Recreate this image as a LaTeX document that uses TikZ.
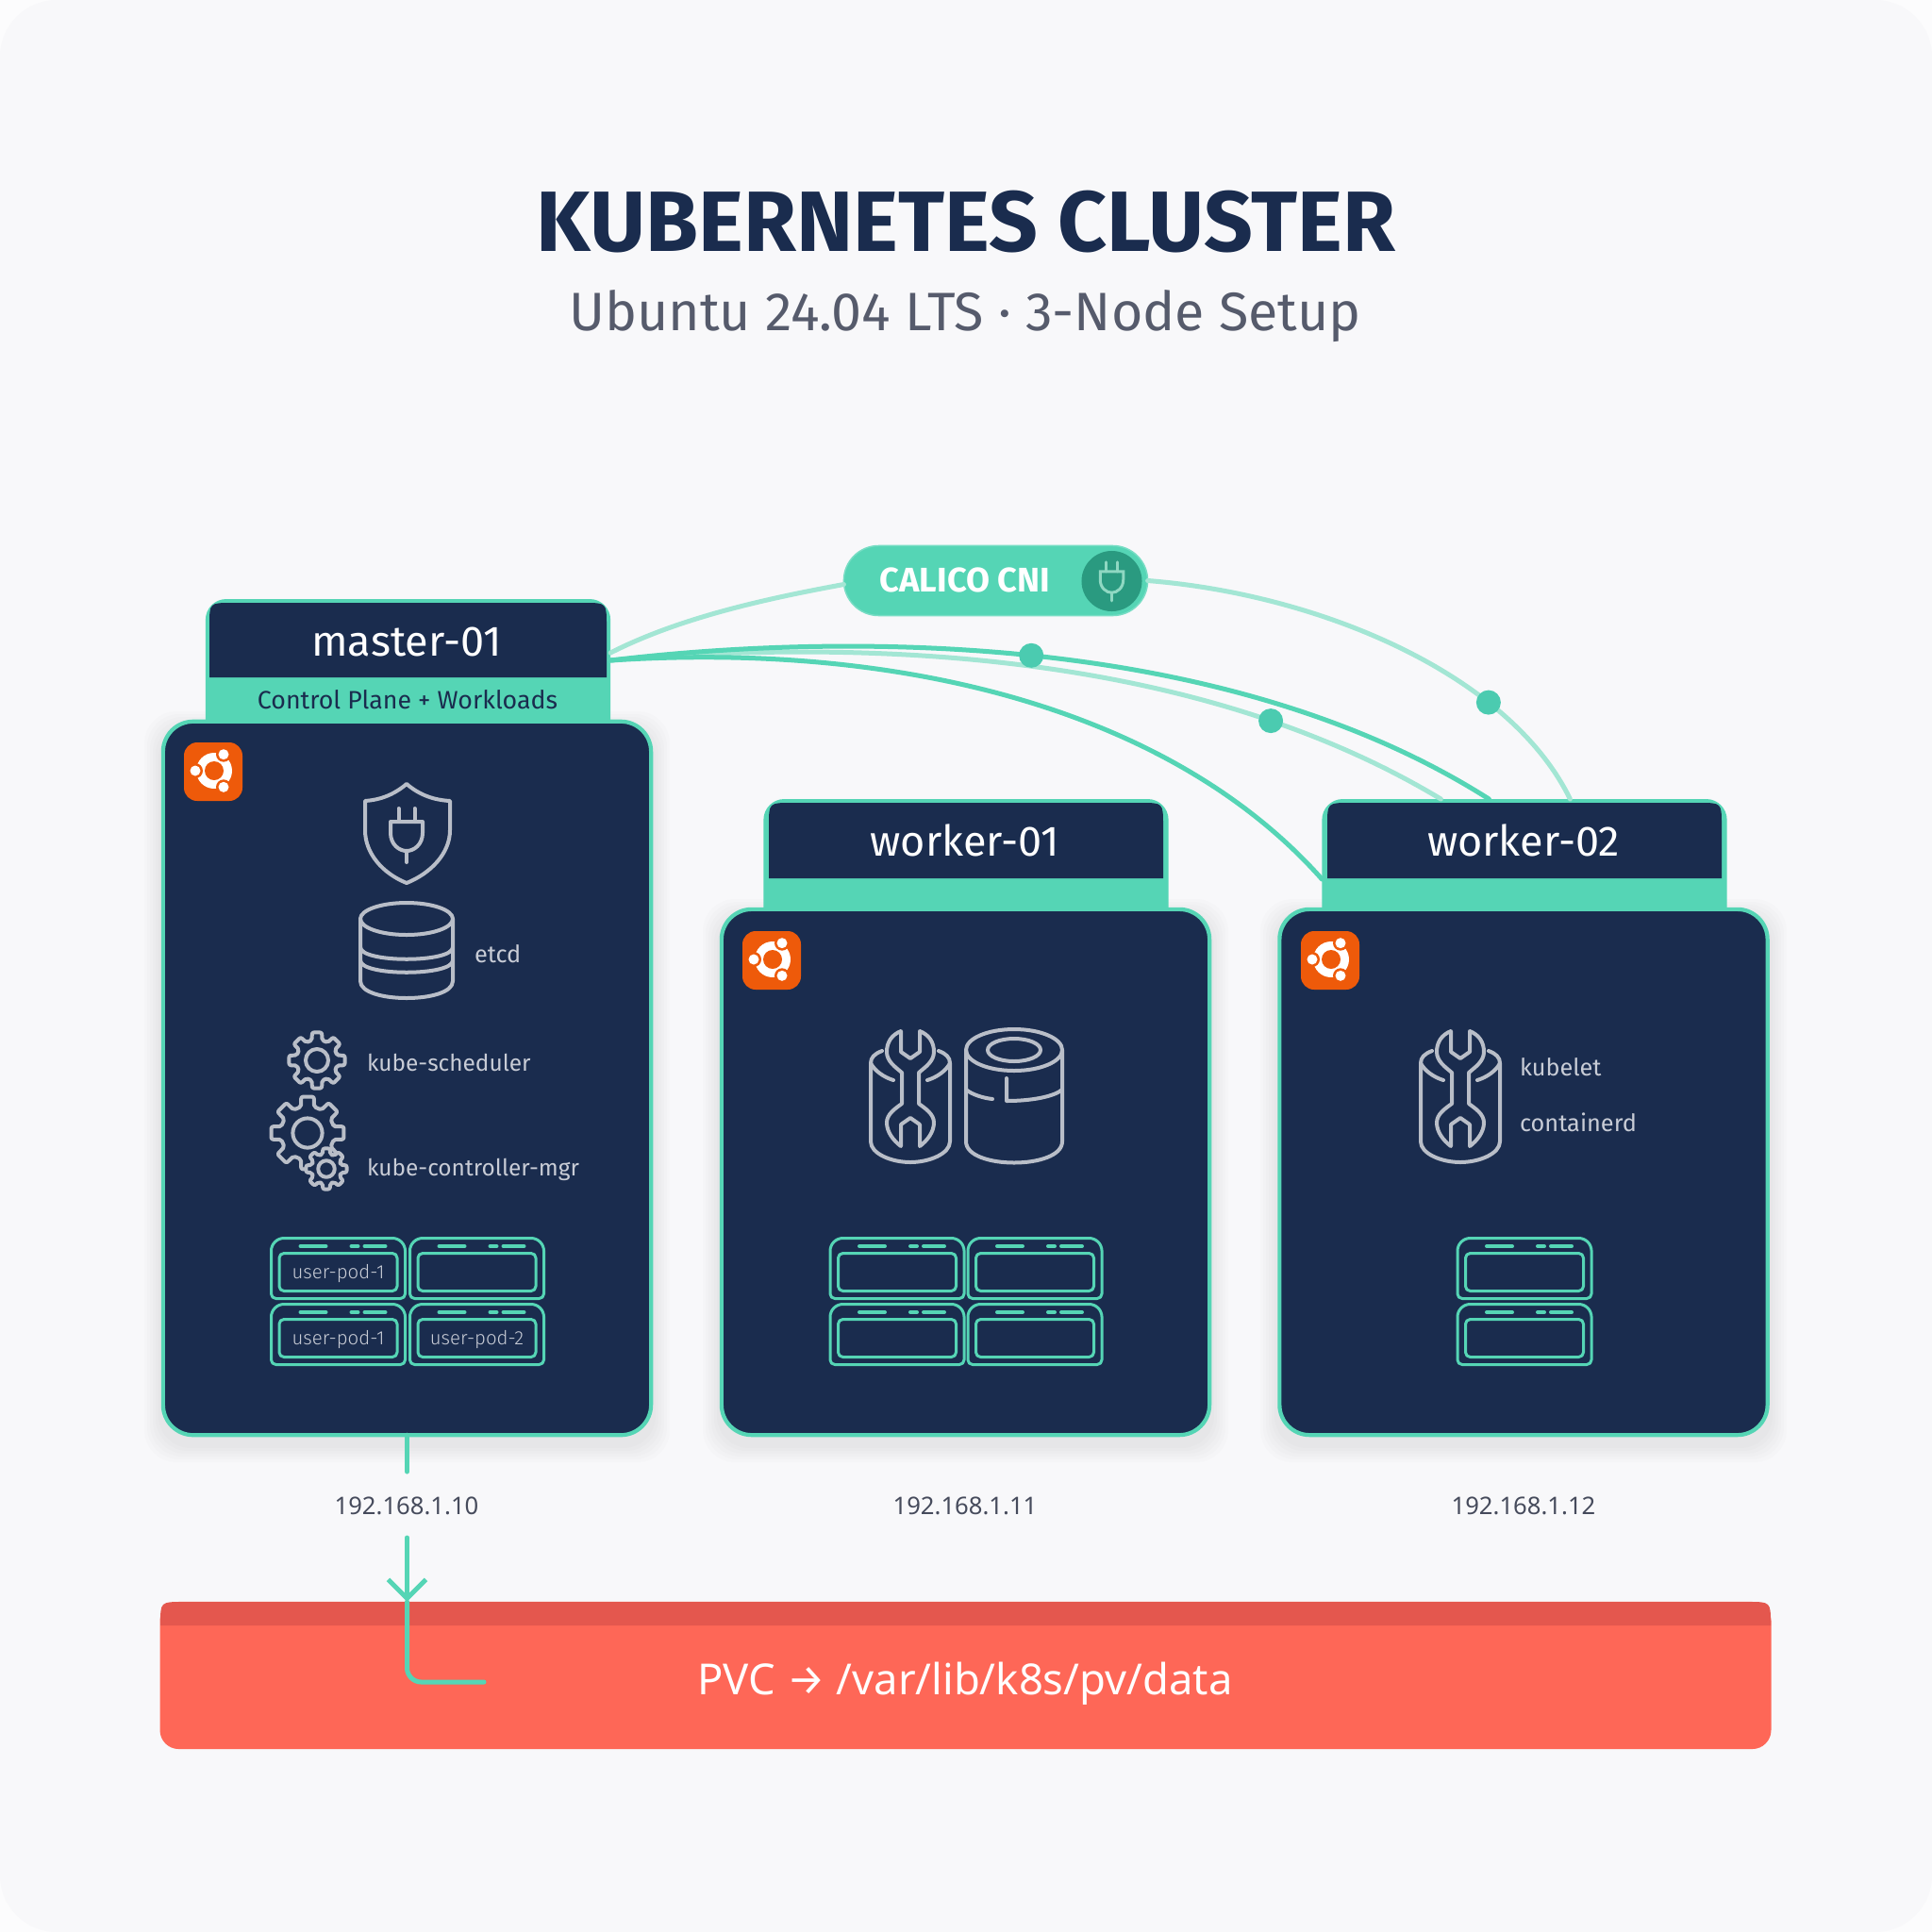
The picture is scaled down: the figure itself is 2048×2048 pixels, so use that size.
\documentclass[tikz,border=0pt]{standalone}
\usepackage{fontspec}
\setmainfont{Fira Sans}
\newfontfamily\lightfont{Fira Sans Light}
\newfontfamily\notofont{Noto Sans}
\usetikzlibrary{arrows.meta}
\usetikzlibrary{calc}

\definecolor{navy}{HTML}{1A2C4E}
\definecolor{mint}{HTML}{55D5B5}
\definecolor{mintpale}{HTML}{A3E6D4}
\definecolor{mintdot}{HTML}{4BCBB0}
\definecolor{plugdark}{HTML}{2A9A80}
\definecolor{plugpale}{HTML}{8FD8C2}
\definecolor{paper}{HTML}{F8F8FA}
\definecolor{coral}{HTML}{FE6757}
\definecolor{coraldark}{HTML}{E4574E}
\definecolor{ubuntu}{HTML}{EE5A0A}
\definecolor{icongrey}{HTML}{B9BEC8}
\definecolor{textgrey}{HTML}{C8CCD6}
\definecolor{subgrey}{HTML}{565B6C}
\definecolor{ipgrey}{HTML}{464B5C}

\def\fs#1{\fontsize{#1}{#1}\selectfont}

\begin{document}
\begin{tikzpicture}[x=0.01cm,y=-0.01cm,
    every node/.style={inner sep=0pt,outer sep=0pt},
    hdr/.style={fill=mint,rounded corners=0.22cm,minimum width=4.29cm,anchor=north},
    card/.style={draw=mint,fill=navy,line width=0.042cm,rounded corners=0.32cm,
      minimum width=5.17cm},
    hostname/.style={text=white,font=\fs{12.8}},
    svc/.style={text=textgrey,font=\fs{7.2},anchor=west},
    kubesvc/.style={text=textgrey,font=\fs{6.95},anchor=west},
    podtext/.style={text=textgrey,font=\lightfont\fs{5.8}},
    iptext/.style={text=ipgrey,font=\notofont\fs{7.3}},
    icon/.style={draw=icongrey,line width=0.04cm,line cap=round,line join=round},
    podline/.style={draw=mint,line width=0.03cm,line join=round},
    wire/.style={draw=mint,line width=0.05cm,line cap=round},
    palewire/.style={draw=mintpale,line width=0.05cm,line cap=round},
    wiredot/.style={circle,fill=mintdot,minimum size=0.26cm},
    gearicon/.pic={
      \draw[icon,fill=navy,rounded corners=0.02cm] (-14:22)
        \foreach \a in {0,45,...,315}{ -- ({\a-10}:30) -- ({\a+10}:30) -- ({\a+14}:22) -- ({\a+31}:22)} -- cycle;
      \draw[icon] (0,0) circle (12);
    },
    plugicon/.pic={
      \draw (-8.5,-28) -- (-8.5,-14) (8.5,-28) -- (8.5,-14);
      \draw (-17,-14) -- (17,-14) -- (17,-2) .. controls (17,10) and (8,17) .. (0,17)
        .. controls (-8,17) and (-17,10) .. (-17,-2) -- cycle;
      \draw (0,17) -- (0,29);
    },
    wrenchcan/.pic={
      \draw[icon] (-30,-49) .. controls (-38,-46) and (-42,-42) .. (-42,-36) -- (-42,47)
        .. controls (-42,60) and (-20,69) .. (0,69) .. controls (20,69) and (42,60) .. (42,47) -- (42,-36)
        .. controls (42,-42) and (38,-46) .. (30,-49);
      \draw[icon] (-42,-36) .. controls (-38,-28) and (-28,-21) .. (-18,-18);
      \draw[icon] (42,-36) .. controls (38,-28) and (28,-21) .. (18,-18);
      \draw[icon] (-10,-70) .. controls (-20,-66) and (-25,-58) .. (-25,-48)
        .. controls (-25,-38) and (-16,-32) .. (-9,-26) -- (-9,7)
        .. controls (-16,12) and (-25,18) .. (-25,27) .. controls (-25,37) and (-18,46) .. (-10,52)
        -- (-10,29) -- (0,22) -- (10,29) -- (10,52)
        .. controls (18,46) and (25,37) .. (25,27) .. controls (25,18) and (16,12) .. (9,7) -- (9,-26)
        .. controls (16,-32) and (25,-38) .. (25,-48) .. controls (25,-58) and (20,-66) .. (10,-70)
        -- (10,-48) -- (0,-41) -- (-10,-48) -- cycle;
    },
    pod/.pic={
      \draw[podline,rounded corners=0.05cm] (-71,-24) -- (-63,-32) -- (63,-32) -- (71,-24)
        -- (71,32) -- (-71,32) -- cycle;
      \draw[podline,rounded corners=0.05cm] (-62.5,-16) rectangle (62.5,24);
      \draw[mint,line width=0.04cm,line cap=round] (-40,-23.5) -- (-13,-23.5) (14,-23.5) -- (21,-23.5) (28,-23.5) -- (50,-23.5);
    },
    ubuntubadge/.pic={
      \fill[ubuntu,rounded corners=0.14cm] (-31,-31) rectangle (31,31);
      \fill[white] (1,-1) circle (19);
      \fill[ubuntu] (1,-1) circle (10);
      \foreach \a in {60,180,300}{
        \fill[ubuntu] ($(1,-1)+(\a:20)$) circle (8);
        \fill[white] ($(1,-1)+(\a:20)$) circle (5.5);
      }
    }
]
\def\softshadow#1#2#3#4{
  \foreach \s in {3,6,...,18}
    \fill[black,opacity=0.012,rounded corners=0.34cm] (#1-\s,#2+9-\s) rectangle (#3+\s,#4+9+\s);
}
\def\hdrtop#1#2#3#4#5{
  \fill[#1] (#2,#5) -- (#2,#4+24) .. controls (#2,#4) .. (#2+24,#4) -- (#3-24,#4)
    .. controls (#3,#4) .. (#3,#4+24) -- (#3,#5) -- cycle;
}

\useasboundingbox (0,0) rectangle (2048,2048);
\fill[paper!40!white] (0,0) rectangle (2048,2048);
\fill[paper,rounded corners=0.6cm] (0,0) rectangle (2048,2048);

%------------------------ title ------------------------
\node[text=navy,font=\bfseries\fs{25.8}] (title) at (1024,235) {KUBERNETES CLUSTER};
\node[text=subgrey,font=\fs{16.3}] (subtitle) at (1023,335) {Ubuntu 24.04 LTS · 3-Node Setup};

%------------------------ nodes ------------------------
\softshadow{171}{763}{692}{1523}
\softshadow{763}{962}{1284}{1523}
\softshadow{1354}{962}{1876}{1523}

% master
\node[hdr,minimum height=1.7cm] (masterhdr) at (432.5,635) {};
\hdrtop{navy}{222}{643}{639}{718}
\node[hostname] (mastername) at (431,680) {master-01};
\node[text=navy,font=\fs{7.6}] (masterrole) at (432,742) {Control Plane + Workloads};
\node[card,minimum height=7.56cm] (masterbody) at (431.5,1143) {};

% worker-01
\node[hdr,minimum height=1.6cm] (workeronehdr) at (1024,847) {};
\hdrtop{navy}{815}{1233}{851}{931}
\node[hostname] (workeronename) at (1023,891) {worker-01};
\node[card,minimum height=5.57cm] (workeronebody) at (1023.5,1242.5) {};

% worker-02
\node[hdr,minimum height=1.6cm] (workertwohdr) at (1616,847) {};
\hdrtop{navy}{1407}{1825}{851}{931}
\node[hostname] (workertwoname) at (1615,891) {worker-02};
\node[card,minimum height=5.57cm] (workertwobody) at (1615,1242.5) {};

% ubuntu badges
\pic at (226,818) {ubuntubadge};
\pic at (818,1018) {ubuntubadge};
\pic at (1410,1018) {ubuntubadge};

%------------------------ master services ------------------------
\draw[icon] (431,831) .. controls (445,843) and (460,848) .. (477,849) -- (477,880)
  .. controls (477,905) and (456,926) .. (431,936) .. controls (406,926) and (387,905) .. (387,880)
  -- (387,849) .. controls (402,848) and (417,843) .. (431,831) -- cycle;
\pic[icon] at (431,885) {plugicon};

\draw[icon] (431,974) ellipse [x radius=49,y radius=17];
\draw[icon] (382,974) -- (382,1040) .. controls (382,1064) and (480,1064) .. (480,1040) -- (480,974);
\draw[icon] (382,1004) .. controls (382,1021) and (480,1021) .. (480,1004);
\draw[icon] (382,1018) .. controls (382,1035) and (480,1035) .. (480,1018);
\node[svc] (etcdlbl) at (503,1011) {etcd};

\pic at (336,1124) {gearicon};
\node[kubesvc] (schedlbl) at (389,1126) {kube-scheduler};
\pic[scale=1.3] at (326,1201) {gearicon};
\pic[scale=0.73] at (346,1239) {gearicon};
\node[kubesvc] (ctrllbl) at (389,1240) {kube-controller-mgr};

%------------------------ pods ------------------------
\pic at (358.5,1344.5) {pod};
\pic at (505.5,1344.5) {pod};
\pic at (358.5,1414.5) {pod};
\pic at (505.5,1414.5) {pod};
\node[podtext] (podone) at (358.5,1350) {user-pod-1};
\node[podtext] (podtwo) at (358.5,1420) {user-pod-1};
\node[podtext] (podthree) at (505.5,1420) {user-pod-2};

\pic at (951,1344.5) {pod};
\pic at (1097,1344.5) {pod};
\pic at (951,1414.5) {pod};
\pic at (1097,1414.5) {pod};

\pic at (1616,1344.5) {pod};
\pic at (1616,1414.5) {pod};

%------------------------ worker services ------------------------
\pic at (965,1163) {wrenchcan};
\draw[icon] (1075,1113) ellipse [x radius=51,y radius=22];
\draw[icon] (1075,1113) ellipse [x radius=28,y radius=12];
\draw[icon] (1024,1113) -- (1024,1210) .. controls (1024,1240) and (1126,1240) .. (1126,1210) -- (1126,1113);
\draw[icon] (1024,1155) .. controls (1030,1160) and (1042,1164) .. (1052,1165);
\draw[icon] (1067,1143) -- (1067,1167) .. controls (1095,1167) and (1118,1162) .. (1126,1155);

\pic at (1548,1163) {wrenchcan};
\node[svc] (kubeletlbl) at (1611,1131) {kubelet};
\node[svc] (ctrdlbl) at (1611,1190) {containerd};

%------------------------ calico ------------------------
\node[fill=mint,draw=mint!80!white,line width=0.015cm,rounded corners=0.37cm,minimum width=3.22cm,minimum height=0.74cm] (cni) at (1055.5,615.5) {};
\node[text=white,font=\bfseries\fs{10.3}] (cnilbl) at (1023,615) {CALICO CNI};
\node[circle,fill=plugdark,minimum size=0.64cm] (plugdisc) at (1178.5,616) {};
\pic[draw=plugpale,line width=0.03cm,line cap=round,scale=0.72] at (1178.5,616) {plugicon};

\coordinate (masterup) at ($(masterhdr.north east)+(0,57)$);
\coordinate (masterout) at ($(masterhdr.north east)+(0,65)$);
\coordinate (cniin) at ($(cni.west)+(0,4)$);
\coordinate (wtwoa) at ($(workertwohdr.north west)+(126,0)$);
\coordinate (wtwob) at ($(workertwohdr.north west)+(177,0)$);
\coordinate (wtwoc) at ($(workertwohdr.north west)+(263,0)$);
\coordinate (wtwod) at ($(workertwohdr.north west)+(0,85)$);

\draw[palewire] (masterup) .. controls (720,655) and (810,635) .. (cniin);
\draw[palewire] (cni.east) .. controls (1400,630) and (1600,715) .. node[pos=0.71,wiredot] (dotc) {} (wtwoc);
\draw[palewire] (masterout) .. controls (880,680) and (1250,680) .. node[pos=0.795,wiredot] (dotb) {} (wtwoa);
\draw[wire] (masterout) .. controls (900,670) and (1300,670) .. node[pos=0.49,wiredot] (dota) {} (wtwob);
\draw[wire] (masterout) .. controls (950,680) and (1240,750) .. (wtwod);

%------------------------ addresses and storage ------------------------
\node[iptext] (ipm) at (431,1596) {192.168.1.10};
\node[iptext] (ipa) at (1023,1596) {192.168.1.11};
\node[iptext] (ipb) at (1615,1596) {192.168.1.12};

\node[fill=coral,rounded corners=0.2cm,minimum width=17.07cm,minimum height=1.56cm] (pvc) at (1023.5,1776) {};
\hdrtop{coraldark}{170}{1877}{1698}{1723}
\node[text=white,font=\notofont\fs{12.9}] (pvclbl) at (1023,1785) {PVC {\normalfont →} /var/lib/k8s/pv/data};

\coordinate (ipstop) at (masterbody.south |- 0,1560);
\coordinate (ipstart) at (masterbody.south |- 0,1630);
\coordinate (pvcin) at (masterbody.south |- pvc.north);
\coordinate (pvcend) at (513,1783);
\draw[wire] (masterbody.south) -- (ipstop);
\draw[wire,-{Straight Barb[length=0.2cm,width=0.4cm]}] (ipstart) -- (pvcin);
\draw[wire,rounded corners=0.15cm] (pvcin) |- (pvcend);

\end{tikzpicture}
\end{document}
